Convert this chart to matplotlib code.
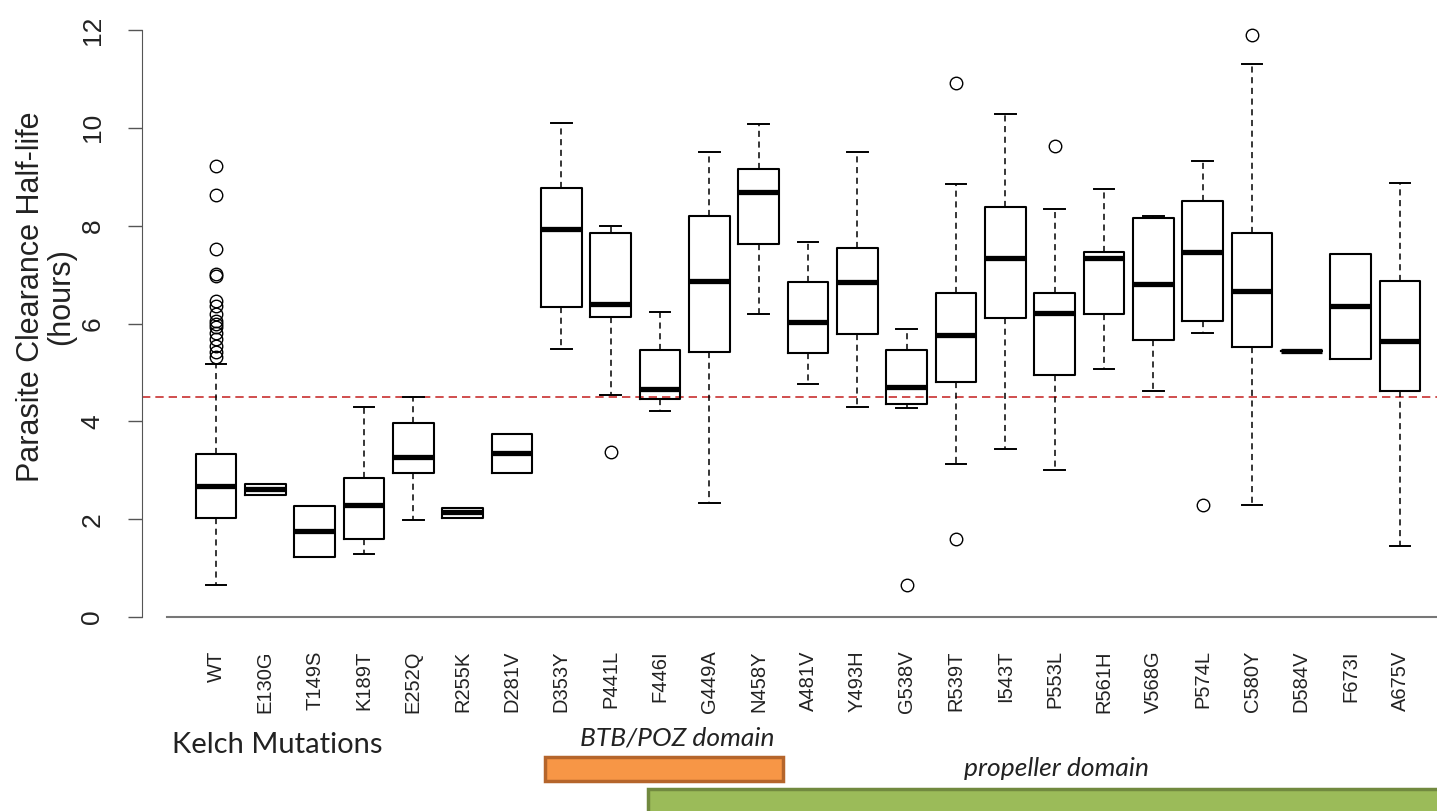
import matplotlib
matplotlib.use("Agg")
import matplotlib.pyplot as plt
from matplotlib.patches import Rectangle

# kelch mutations, boxplot stats
mutaciones = ['WT', 'E130G', 'T149S', 'K189T', 'E252Q', 'R255K', 'D281V', 'D353Y', 'P441L',
              'F446I', 'G449A', 'N458Y', 'A481V', 'Y493H', 'G538V', 'R539T', 'I543T', 'P553L',
              'R561H', 'V568G', 'P574L', 'C580Y', 'D584V', 'F673I', 'A675V']
q1 = [2.02, 2.49, 1.23, 1.60, 2.94, 2.03, 2.94, 6.34, 6.13, 4.45, 5.42, 7.63, 5.39,
      5.78, 4.35, 4.80, 6.11, 4.95, 6.19, 5.66, 6.05, 5.51, 5.44, 5.27, 4.62]
mediana = [2.68, 2.62, 1.75, 2.28, 3.28, 2.15, 3.35, 7.94, 6.40, 4.67, 6.87, 8.69, 6.04,
           6.85, 4.70, 5.77, 7.33, 6.22, 7.34, 6.80, 7.46, 6.67, 5.44, 6.36, 5.65]
q3 = [3.33, 2.71, 2.27, 2.85, 3.97, 2.23, 3.74, 8.76, 7.84, 5.45, 8.20, 9.15, 6.84,
      7.55, 5.45, 6.63, 8.39, 6.63, 7.46, 8.16, 8.50, 7.84, 5.44, 7.42, 6.87]
bigote_bajo = [0.65, 2.49, 1.23, 1.29, 1.98, 2.03, 2.94, 5.48, 4.53, 4.21, 2.34, 6.19, 4.76,
               4.29, 4.27, 3.13, 3.43, 3.00, 5.06, 4.62, 5.81, 2.29, 5.44, 5.27, 1.45]
bigote_alto = [5.17, 2.71, 2.27, 4.29, 4.49, 2.23, 3.74, 10.10, 8.00, 6.23, 9.50, 10.08, 7.66,
               9.50, 5.89, 8.86, 10.29, 8.34, 8.74, 8.20, 9.32, 11.31, 5.44, 7.42, 8.87]
atipicos = {
    'WT': [9.22, 8.62, 7.53, 7.02, 6.98, 6.45, 6.35, 6.20, 6.05, 6.00, 5.92, 5.80,
           5.68, 5.55, 5.42, 5.32],
    'P441L': [3.37],
    'G538V': [0.65],
    'R539T': [10.91, 1.59],
    'P553L': [9.62],
    'P574L': [2.28],
    'C580Y': [11.89],
}
umbral = 4.5

stats = []
for i, m in enumerate(mutaciones):
    stats.append(dict(label=m, med=mediana[i], q1=q1[i], q3=q3[i],
                      whislo=bigote_bajo[i], whishi=bigote_alto[i],
                      fliers=atipicos.get(m, [])))

W, H = 1437, 811
fig = plt.figure(figsize=(W / 100, H / 100), dpi=100)
ax = fig.add_axes([142 / W, 174.4 / H, 1295 / W, 626.2 / H])

pos = list(range(1, len(mutaciones) + 1))
ax.bxp(stats, positions=pos, widths=0.83, capwidths=0.42, patch_artist=False,
       boxprops=dict(color='black', linewidth=1.5),
       medianprops=dict(color='black', linewidth=3.8, solid_capstyle='butt'),
       whiskerprops=dict(color='black', linewidth=1.1, linestyle=(0, (4, 3))),
       capprops=dict(color='black', linewidth=1.4),
       flierprops=dict(marker='o', markerfacecolor='none', markeredgecolor='black',
                       markersize=9, markeredgewidth=1.0))

ax.axhline(umbral, color='#c83030', linewidth=1.2, linestyle=(0, (5, 3)), zorder=0)

ax.set_xlim(-0.5, 25.75)
ax.set_ylim(-0.4, 12.4)

for lado in ['top', 'right']:
    ax.spines[lado].set_visible(False)
ax.spines['left'].set_bounds(0, 12)
ax.spines['left'].set_color('#555555')
ax.spines['bottom'].set_position(('data', 0))
ax.spines['bottom'].set_bounds(0, 25.75)
ax.spines['bottom'].set_color('#777777')
ax.spines['bottom'].set_linewidth(1.5)

ax.set_yticks(range(0, 13, 2))
ax.tick_params(axis='y', length=10, width=1, color='#555555', pad=17,
               labelsize=19, labelrotation=90, labelcolor='#222222')
ax.set_xticks(pos, mutaciones, rotation=90, fontsize=14.5, color='#222222',
              family='Liberation Sans')
ax.tick_params(axis='x', length=0, pad=24)
for t in ax.get_yticklabels():
    t.set_family('Liberation Sans')
    t.set_va('center')

fig.text(46 / W, (H - 297) / H, 'Parasite Clearance Half-life\n(hours)', rotation=90,
         ha='center', va='center', multialignment='center', fontsize=22,
         linespacing=1.0, family='Liberation Sans', color='#222222')

# dominios debajo del eje
fig.text(172 / W, (H - 745) / H, 'Kelch Mutations', ha='left', va='center',
         fontsize=21, family='Lato', color='#222222')
fig.text(677 / W, (H - 738) / H, 'BTB/POZ domain', ha='center', va='center',
         fontsize=19, family='Lato', style='italic', color='#222222')
fig.text(1057 / W, (H - 769) / H, 'propeller domain', ha='center', va='center',
         fontsize=19, family='Lato', style='italic', color='#222222')

fig.patches.append(Rectangle((545 / W, 30 / H), 238 / W, 24 / H, transform=fig.transFigure,
                             facecolor='#f79646', edgecolor='#b5652b', linewidth=2.5))
fig.patches.append(Rectangle((648 / W, -4 / H), 820 / W, 26 / H, transform=fig.transFigure,
                             facecolor='#9bbb59', edgecolor='#71893f', linewidth=2.5))

fig.savefig('out.png', dpi=100)
